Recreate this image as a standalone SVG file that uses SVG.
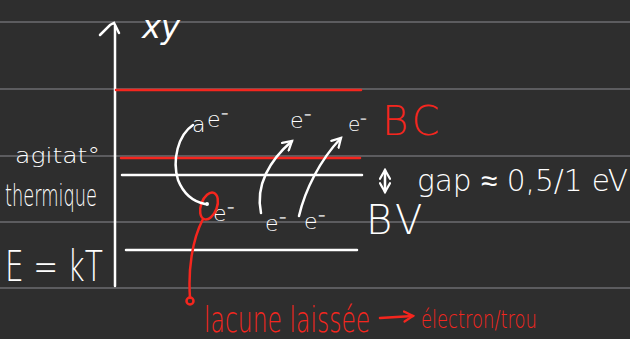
<svg xmlns="http://www.w3.org/2000/svg" width="630" height="339" viewBox="0 0 630 339">
<defs>
<style>
.bg{fill:#2e2e2e}
.rule{stroke:#5c5c5f;stroke-width:2}
.w{stroke:#ffffff;stroke-width:2.5;fill:none;stroke-linecap:round}
.r{stroke:#f5261e;stroke-width:2.5;fill:none;stroke-linecap:round}
.tw{fill:#ffffff;font-family:"DejaVu Sans","Liberation Sans",sans-serif;font-weight:300}
.tr{fill:#f5261e;font-family:"DejaVu Sans","Liberation Sans",sans-serif;font-weight:300}
</style>
<marker id="aw" viewBox="0 0 10 10" refX="8" refY="5" markerWidth="5" markerHeight="5" orient="auto-start-reverse">
<path d="M1,1 L8,5 L1,9" fill="none" stroke="#ffffff" stroke-width="1.8" stroke-linecap="round"/>
</marker>
<marker id="ar" viewBox="0 0 10 10" refX="8" refY="5" markerWidth="5" markerHeight="5" orient="auto">
<path d="M1,1 L8,5 L1,9" fill="none" stroke="#f5261e" stroke-width="1.8" stroke-linecap="round"/>
</marker>
</defs>
<rect class="bg" x="0" y="0" width="630" height="339"/>
<g id="rules">
<line class="rule" x1="0" y1="22" x2="630" y2="22"/>
<line class="rule" x1="0" y1="89" x2="630" y2="89"/>
<line class="rule" x1="0" y1="156" x2="630" y2="156"/>
<line class="rule" x1="0" y1="222" x2="630" y2="222"/>
<line class="rule" x1="0" y1="288" x2="630" y2="288"/>
</g>
<g id="axis">
<line class="w" x1="115" y1="26" x2="115" y2="286"/>
<path class="w" d="M100,35 L110,25 L114,23 L119,33"/>
<text class="tw" x="142" y="38" font-size="32" font-style="italic">xy</text>
</g>
<g id="levels">
<line class="r" x1="116" y1="90" x2="361" y2="90" stroke-width="3"/>
<line class="r" x1="121" y1="158" x2="360" y2="158" stroke-width="3"/>
<line class="w" x1="122" y1="175" x2="362" y2="175"/>
<line class="w" x1="126" y1="250" x2="357" y2="250"/>
</g>
<g id="left-labels">
<text class="tw" x="15" y="163" font-size="22" textLength="85" lengthAdjust="spacingAndGlyphs">agitat°</text>
<text class="tw" x="5" y="206" font-size="30" textLength="92" lengthAdjust="spacingAndGlyphs">thermique</text>
<text class="tw" x="5" y="281" font-size="42" textLength="98" lengthAdjust="spacingAndGlyphs">E = kT</text>
</g>
<g id="BC">
<text class="tr" x="382" y="135" font-size="40" letter-spacing="4">BC</text>
</g>
<g id="BV">
<text class="tw" x="366" y="234" font-size="40" letter-spacing="4">BV</text>
</g>
<g id="gap">
<text class="tw" x="417" y="191" font-size="30" textLength="211" lengthAdjust="spacingAndGlyphs">gap ≈ 0,5/1 eV</text>
</g>
<g id="electrons">
<text class="tw" x="192" y="132" font-size="22">a</text>
<text class="tw" x="207" y="127" font-size="22">e⁻</text>
<text class="tw" x="290" y="128" font-size="22">e⁻</text>
<text class="tw" x="348" y="131" font-size="20">e⁻</text>
<text class="tw" x="213" y="221" font-size="22">e⁻</text>
<text class="tw" x="265" y="231" font-size="22">e⁻</text>
<text class="tw" x="304" y="229" font-size="22">e⁻</text>
<circle cx="207" cy="204" r="2" fill="#ffffff"/>
</g>
<g id="hole">
<ellipse class="r" cx="209" cy="206" rx="8" ry="14" transform="rotate(20 209 206)"/>
<text class="tr" transform="translate(204,332) scale(1,1.5)" x="0" y="0" font-size="23.5">lacune laissée</text>
<text class="tr" transform="translate(421,328) scale(1,1.4)" x="0" y="0" font-size="18">électron/trou</text>
</g>
<g id="connectors">
<path class="w" d="M193,125 C178,135 172,160 178,180 C184,195 195,202 205,204"/>
<path class="w" d="M261,213 C255,185 270,160 292,141" marker-end="url(#aw)"/>
<path class="w" d="M299,216 C305,190 320,160 341,138" marker-end="url(#aw)"/>
<path class="w" d="M385,170 L385,192" stroke-width="2" marker-start="url(#aw)" marker-end="url(#aw)"/>
<path class="r" d="M203,219 C192,240 188,270 190,298"/>
<circle class="r" cx="190" cy="301" r="3.5"/>
<path class="r" d="M380,318 L413,316" marker-end="url(#ar)"/>
</g>
</svg>
